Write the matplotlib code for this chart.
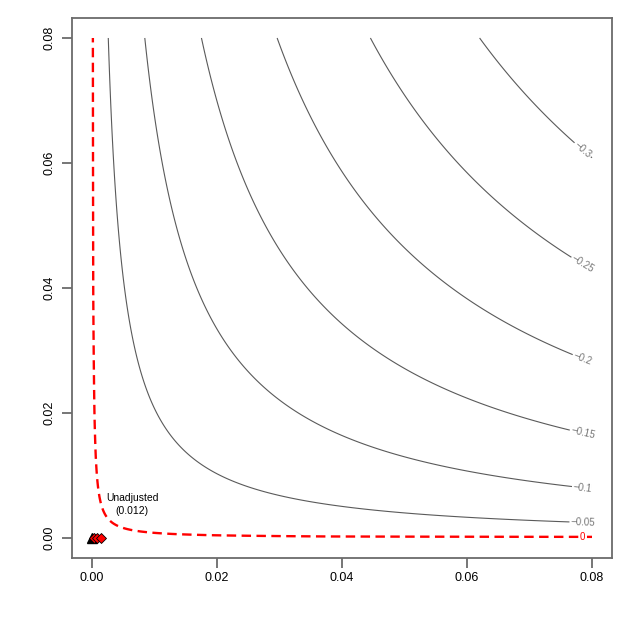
import numpy as np
import matplotlib
matplotlib.use("Agg")
import matplotlib.pyplot as plt

plt.rcParams['font.family'] = ['Liberation Sans', 'DejaVu Sans']

# Sensitivity contour parameters
estimate = 0.012          # unadjusted estimate
bias_scale = 4.29         # se * sqrt(dof)
lim = 0.08
levels = [-0.3, -0.25, -0.2, -0.15, -0.1, -0.05]
level_labels = ['\u22120.3', '\u22120.25', '\u22120.2', '\u22120.15', '\u22120.1', '\u22120.05']
threshold = 0.0

# Benchmark bound points
bound_r2dz = [0.00037, 0.00085, 0.0014]
bound_r2yz = [0.0, 0.0, 0.0]
unadj_point = (0.0, 0.0)

x_ticks = [0.00, 0.02, 0.04, 0.06, 0.08]
y_ticks = [0.00, 0.02, 0.04, 0.06, 0.08]

fig = plt.figure(figsize=(6.3, 6.3), dpi=100)
ax = fig.add_axes([72/630, 1-557.7/630, (612-72)/630, (557.7-18)/630])

g = np.linspace(0, lim, 401)
X, Y = np.meshgrid(g, g)
Z = estimate - bias_scale * np.sqrt(X * Y / (1 - X))

grey = '#5a5a5a'
cs = ax.contour(X, Y, Z, levels=levels, colors=grey, linewidths=0.8,
                linestyles='solid')
fmt = dict(zip(levels, level_labels))
manual = []
for lv in levels:
    ypos = (estimate - lv) ** 2 / bias_scale ** 2 * (1 - 0.0785) / 0.0785
    manual.append((0.0785, ypos))
ax.clabel(cs, levels=levels, fmt=fmt, fontsize=7, colors='#777777',
          inline=True, inline_spacing=2, manual=manual)

cs0 = ax.contour(X, Y, Z, levels=[threshold], colors='red', linewidths=1.7)
cs0.set_linestyle((0, (4, 2.3)))
ypos0 = (estimate - threshold) ** 2 / bias_scale ** 2 * (1 - 0.0785) / 0.0785
ax.clabel(cs0, levels=[threshold], fmt={threshold: '0'}, fontsize=7,
          colors='red', inline=True, inline_spacing=2, manual=[(0.0785, ypos0)])

ax.plot([unadj_point[0]], [unadj_point[1]], marker='^', color='black',
        markersize=7, linestyle='none', zorder=5)
ax.plot(bound_r2dz, bound_r2yz, marker='D', markerfacecolor='red',
        markeredgecolor='black', markeredgewidth=0.6, markersize=5.5,
        linestyle='none', zorder=6)
ax.text(0.00644, 0.0053, 'Unadjusted\n(0.012)', ha='center', va='center',
        fontsize=7.5, linespacing=1.3)

ax.set_xlim(-0.0032, 0.0832)
ax.set_ylim(-0.0032, 0.0832)
ax.set_xticks(x_ticks)
ax.set_yticks(y_ticks)
ax.set_xticklabels([f'{v:.2f}' for v in x_ticks], fontsize=9)
ax.set_yticklabels([f'{v:.2f}' for v in y_ticks], fontsize=9, rotation=90,
                   va='center')
for s in ax.spines.values():
    s.set_color('#6b6b6b')
    s.set_linewidth(1.3)
ax.tick_params(axis='both', colors='#6b6b6b', labelcolor='black', length=7,
               width=1.3)
ax.tick_params(axis='x', pad=3.5)
ax.tick_params(axis='y', pad=5)

fig.savefig('out.png', dpi=100)
